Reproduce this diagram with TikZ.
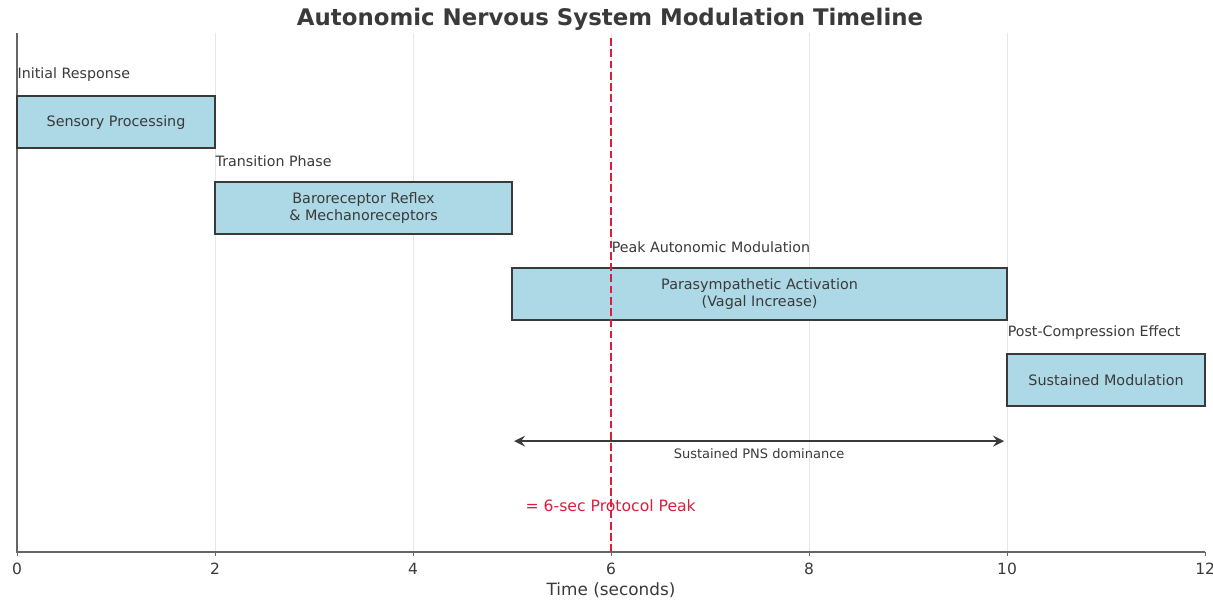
\documentclass[tikz,border=0pt]{standalone}
\usepackage{fontspec}
\setmainfont{DejaVu Sans}
\usepackage{xcolor}
\usetikzlibrary{positioning}

\definecolor{boxblue}{HTML}{ADD8E6}
\definecolor{inkgray}{HTML}{3A3A3A}
\definecolor{gridgray}{HTML}{E6E6E6}
\definecolor{peakred}{HTML}{DC1E3C}

\tikzset{
  phasebox/.style={draw=inkgray, fill=boxblue, line width=0.4pt, inner sep=0pt,
    minimum height=0.52cm, align=center, text=inkgray,
    font=\fontsize{4.08}{4.8}\selectfont},
  phaselabel/.style={anchor=west, inner sep=0pt, text=inkgray,
    font=\fontsize{4.05}{4.8}\selectfont},
  ticklabel/.style={inner sep=0pt, text=inkgray, font=\fontsize{4.4}{5}\selectfont}
}

\begin{document}
\begin{tikzpicture}[x=0.99cm, y=0.86cm, >=stealth]

    \useasboundingbox (-0.172,-0.558) rectangle (12.08,6.419);

    % grid
    \foreach \x in {2,4,6,8,10}
    \draw[gridgray, line width=0.3pt] (\x,0) -- (\x,6.03);

    % axes
    \draw[gray!80!black, line width=0.5pt] (0,6.03) -- (0,0) -- (12,0);
    \foreach \x in {0,2,4,6,8,10,12}
    \draw[gray!80!black, line width=0.3pt] (\x,0) -- (\x,-0.04)
        node[ticklabel, below=0.07cm] (tick\x) {\x};
    \node[ticklabel, font=\fontsize{4.8}{5.5}\selectfont] (xlabel) at (6,-0.44) {Time (seconds)};

    \node[inner sep=0pt, text=inkgray, font=\fontsize{6.5}{7.5}\selectfont\bfseries]
        (title) at (5.99,6.2) {Autonomic Nervous System Modulation Timeline};

    % phases
    \node[phasebox, minimum width=1.98cm] (sensory) at (1,5) {Sensory Processing};
    \node[phaselabel] (initlab) at (0,5.55) {Initial Response};

    \node[phasebox, minimum width=2.97cm] (baro) at (3.5,4) {Baroreceptor Reflex\\\& Mechanoreceptors};
    \node[phaselabel] (translab) at (2,4.55) {Transition Phase};

    \node[phasebox, minimum width=4.95cm] (para) at (7.5,3) {Parasympathetic Activation\\(Vagal Increase)};
    \node[phaselabel] (peaklab) at (6,3.55) {Peak Autonomic Modulation};

    \node[phasebox, minimum width=1.98cm] (sustain) at (11,2) {Sustained Modulation};
    \node[phaselabel] (postlab) at (10,2.55) {Post-Compression Effect};

    % PNS span
    \coordinate (pnsL) at (5.02,1.29);
    \coordinate (pnsR) at (9.97,1.29);
    \draw[<->, inkgray, line width=0.4pt] (pnsL) -- (pnsR)
        node[midway, below=0.07cm, inner sep=0pt, text=inkgray,
             font=\fontsize{3.7}{4.3}\selectfont] (pnslab) {Sustained PNS dominance};

    % protocol peak
    \draw[peakred, line width=0.6pt, dash pattern=on 2.2pt off 1pt] (6,0) -- (6,5.99);
    \node[anchor=west, inner sep=0pt, text=peakred, font=\fontsize{4.45}{5.2}\selectfont]
        (peaktxt) at (5.13,0.535) {= 6-sec Protocol Peak};

\end{tikzpicture}
\end{document}
